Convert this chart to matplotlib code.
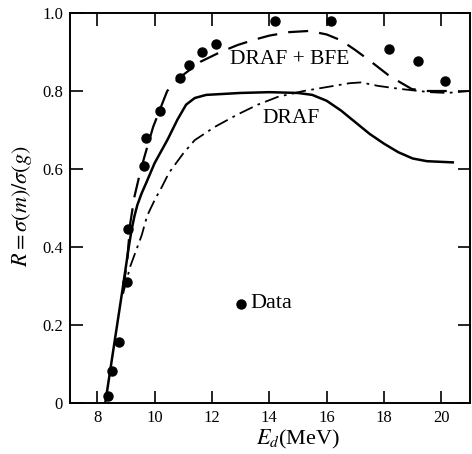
import matplotlib
matplotlib.use("Agg")
import matplotlib.pyplot as plt

plt.rcParams['font.family'] = ['Liberation Serif', 'DejaVu Serif']
plt.rcParams['mathtext.fontset'] = 'stix'

# Data points
data_x = [8.38, 8.52, 8.75, 9.05, 9.08, 9.62, 9.70, 10.2, 10.9, 11.2, 11.66, 12.15, 14.2, 16.15, 18.17, 19.18, 20.13]
data_y = [0.018, 0.082, 0.156, 0.31, 0.445, 0.607, 0.68, 0.749, 0.833, 0.867, 0.90, 0.92, 0.98, 0.98, 0.908, 0.877, 0.826]

# Solid curve
solid_x = [8.28, 8.6, 8.9, 9.1, 9.2, 9.3, 9.4, 9.55, 9.7, 10.0, 10.45, 10.8, 11.1, 11.4, 11.8, 13.0, 14.0, 15.0, 15.5, 16.0, 16.5, 17.0, 17.5, 18.0, 18.5, 19.0, 19.5, 20.4]
solid_y = [0.0, 0.155, 0.30, 0.40, 0.445, 0.48, 0.508, 0.538, 0.563, 0.615, 0.675, 0.727, 0.765, 0.782, 0.79, 0.795, 0.797, 0.795, 0.79, 0.775, 0.75, 0.72, 0.69, 0.665, 0.643, 0.627, 0.62, 0.617]

# Dashed curve (DRAF+BFE)
dash_x = [8.9, 9.05, 9.15, 9.3, 9.46, 9.64, 9.95, 10.2, 10.44, 10.9, 11.6, 12.3, 12.9, 13.5, 14.0, 14.7, 15.4, 16.0, 16.5, 17.0, 17.5, 18.2, 18.97, 19.5, 20.3]
dash_y = [0.29, 0.37, 0.46, 0.53, 0.58, 0.63, 0.708, 0.755, 0.80, 0.836, 0.875, 0.90, 0.918, 0.932, 0.942, 0.951, 0.954, 0.945, 0.93, 0.905, 0.878, 0.838, 0.805, 0.80, 0.80]

# Dash-dot curve (DRAF)
dd_x = [8.9, 9.15, 9.55, 9.74, 10.0, 10.26, 10.5, 11.0, 11.4, 12.1, 12.9, 13.6, 14.3, 15.2, 16.0, 16.8, 17.2, 17.8, 18.6, 19.6, 20.2, 21.0]
dd_y = [0.28, 0.35, 0.43, 0.48, 0.52, 0.555, 0.59, 0.64, 0.674, 0.708, 0.74, 0.765, 0.785, 0.80, 0.81, 0.82, 0.822, 0.813, 0.805, 0.797, 0.795, 0.80]

xticks = [8, 10, 12, 14, 16, 18, 20]
yticks = [0, 0.2, 0.4, 0.6, 0.8, 1.0]
ytick_labels = ['0', '0.2', '0.4', '0.6', '0.8', '1.0']

fig = plt.figure(figsize=(4.72, 4.54), dpi=100)
ax = fig.add_axes([70/472, 1-403/454, 400/472, 390/454])

ax.plot(solid_x, solid_y, '-', color='black', lw=1.8)
ax.plot(dash_x, dash_y, color='black', lw=1.6, dashes=(9, 5))
ax.plot(dd_x, dd_y, color='black', lw=1.3, dashes=(8, 3, 1.5, 3))
ax.plot(data_x, data_y, 'o', color='black', ms=6.5, ls='none')

ax.plot([13.0], [0.254], 'o', color='black', ms=6.5)
ax.text(13.35, 0.254, 'Data', fontsize=16, va='center', ha='left')
ax.text(14.72, 0.88, 'DRAF + BFE', fontsize=15.5, va='center', ha='center')
ax.text(14.76, 0.73, 'DRAF', fontsize=15.5, va='center', ha='center')

ax.set_xlim(7.05, 21.0)
ax.set_ylim(0, 1.0)
ax.set_xticks(xticks)
ax.set_xticklabels([str(t) for t in xticks])
ax.set_yticks(yticks)
ax.set_yticklabels(ytick_labels)
ax.tick_params(direction='in', length=9, width=1.2, labelsize=12, top=True, right=True, pad=5)
for s in ax.spines.values():
    s.set_linewidth(1.4)

ax.set_xlabel(r'$E_d$(MeV)', fontsize=16)
ax.xaxis.set_label_coords(0.57, -0.065)
ax.set_ylabel(r'$R=\sigma(m)/\sigma(g)$', fontsize=16)
ax.yaxis.set_label_coords(-0.09, 0.505)

fig.savefig('out.png', dpi=100)
